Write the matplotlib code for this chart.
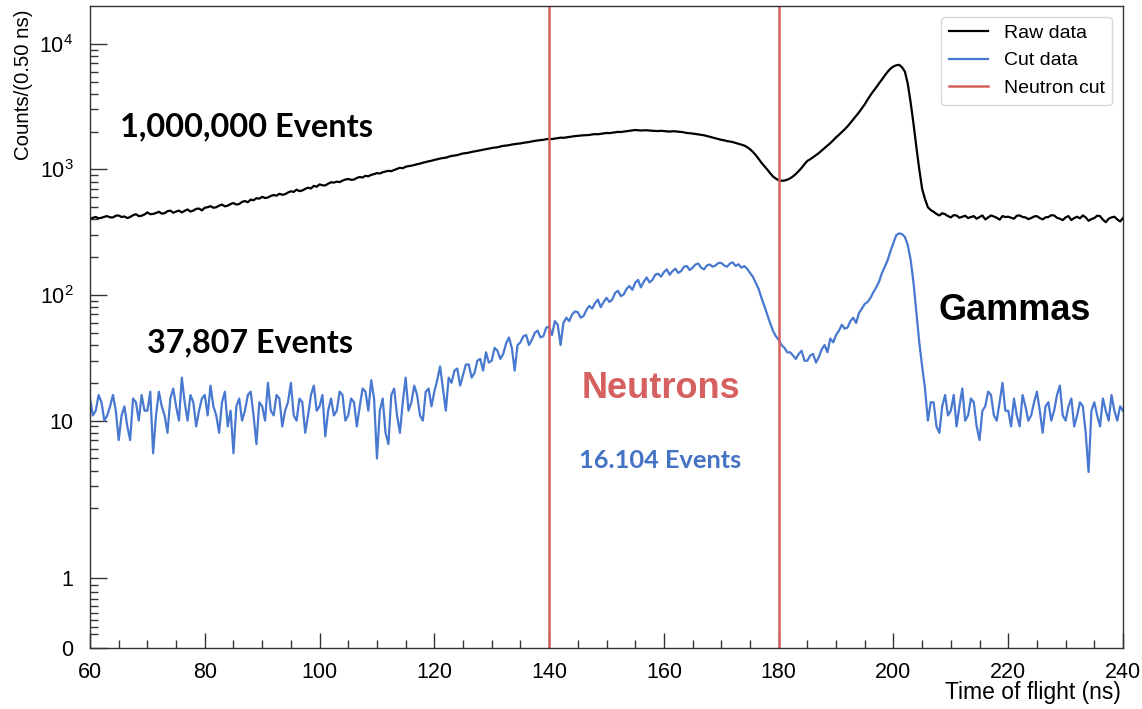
import numpy as np
import matplotlib
matplotlib.use("Agg")
import matplotlib.pyplot as plt

plt.rcParams['font.family'] = ['Liberation Sans', 'DejaVu Sans']
plt.rcParams['mathtext.fontset'] = 'custom'
plt.rcParams['mathtext.rm'] = 'Liberation Sans'

# time of flight bins (ns), 0.5 ns steps
tof = np.arange(60, 240.5, 0.5)

raw_counts = [
    405, 412, 418, 408, 412, 420, 425, 415, 415, 428, 430, 418, 422, 410, 418, 432, 440, 425, 428, 438,
    455, 440, 442, 450, 460, 445, 448, 465, 470, 452, 462, 470, 455, 468, 480, 462, 470, 485, 488, 472,
    495, 500, 510, 495, 500, 515, 525, 508, 515, 530, 540, 525, 530, 552, 560, 548, 575, 568, 590, 585,
    605, 592, 598, 615, 625, 618, 640, 628, 635, 655, 670, 662, 690, 672, 680, 700, 715, 705, 740, 728,
    760, 748, 745, 770, 790, 785, 800, 792, 815, 830, 840, 826, 830, 855, 870, 862, 890, 882, 905, 918,
    935, 928, 950, 962, 975, 968, 990, 1010, 1030, 1022, 1050, 1062, 1070, 1085, 1100, 1112, 1130, 1145, 1160, 1172,
    1190, 1205, 1220, 1232, 1240, 1262, 1280, 1290, 1300, 1322, 1340, 1348, 1360, 1378, 1390, 1405, 1420, 1436, 1450, 1468,
    1480, 1492, 1500, 1522, 1540, 1548, 1560, 1578, 1590, 1602, 1610, 1628, 1640, 1652, 1670, 1688, 1700, 1712, 1720, 1740,
    1750, 1745, 1760, 1778, 1790, 1785, 1800, 1818, 1830, 1842, 1850, 1862, 1870, 1875, 1880, 1898, 1910, 1905, 1920, 1938,
    1950, 1945, 1960, 1978, 1990, 1985, 2000, 2018, 2030, 2045, 2060, 2050, 2040, 2048, 2050, 2038, 2030, 2025, 2020, 2030,
    2020, 2008, 2000, 2012, 2010, 1995, 1990, 1972, 1950, 1942, 1930, 1915, 1900, 1888, 1870, 1845, 1820, 1795, 1770, 1745,
    1720, 1705, 1680, 1668, 1650, 1625, 1600, 1578, 1550, 1505, 1450, 1380, 1300, 1215, 1130, 1062, 1000, 935, 880, 845,
    820, 812, 815, 828, 850, 880, 920, 972, 1030, 1100, 1170, 1205, 1250, 1298, 1350, 1412, 1480, 1548, 1620, 1705,
    1800, 1885, 1980, 2085, 2200, 2345, 2500, 2670, 2850, 3070, 3300, 3600, 3900, 4200, 4500, 4850, 5200, 5600, 6000, 6350,
    6600, 6750, 6800, 6500, 6000, 4800, 3400, 2300, 1500, 1000, 700, 580, 500, 475, 460, 442, 430, 448, 440, 425,
    415, 432, 430, 412, 420, 428, 410, 418, 425, 405, 418, 430, 400, 415, 430, 422, 412, 398, 425, 418,
    420, 412, 405, 428, 430, 418, 415, 402, 410, 422, 425, 410, 400, 415, 418, 432, 430, 412, 405, 395,
    415, 425, 395, 410, 420, 408, 430, 415, 390, 402, 410, 428, 425, 398, 380, 405, 415, 420, 400, 385,
    410,
]

cut_counts = [
    15, 11, 12, 16, 14, 10, 11, 13, 16, 12, 7, 11, 13, 9, 7, 15, 14, 10, 16, 12,
    12, 17, 5.5, 11, 17, 13, 11, 8, 15, 18, 13, 10, 22, 14, 10, 16, 14, 9, 12, 15,
    16, 11, 19, 13, 11, 8, 14, 17, 9, 12, 5.5, 13, 15, 10, 12, 16, 17, 11, 6.5, 14,
    13, 10, 20, 12, 11, 16, 15, 9, 12, 14, 20, 11, 10, 15, 14, 8, 11, 16, 19, 12,
    13, 16, 7.5, 12, 15, 11, 12, 17, 16, 10, 11, 15, 14, 9, 13, 18, 17, 12, 21, 15,
    5, 12, 15, 8, 6.5, 16, 18, 11, 8, 14, 22, 12, 14, 19, 16, 11, 10, 17, 18, 13,
    17, 21, 27, 18, 12, 22, 20, 25, 26, 19, 23, 28, 28, 22, 24, 30, 31, 25, 35, 29,
    30, 38, 36, 31, 34, 41, 46, 38, 25, 40, 42, 47, 48, 40, 44, 50, 52, 46, 47, 55,
    56, 48, 62, 58, 40, 60, 66, 62, 70, 74, 73, 66, 68, 76, 82, 78, 86, 92, 80, 88,
    95, 88, 92, 104, 108, 98, 101, 112, 118, 110, 125, 132, 115, 128, 138, 126, 132, 145, 148, 140,
    152, 160, 145, 155, 162, 150, 155, 168, 170, 158, 165, 175, 178, 165, 160, 172, 175, 168, 172, 180,
    180, 172, 168, 178, 182, 170, 176, 165, 170, 162, 150, 140, 125, 112, 95, 82, 70, 60, 52, 47,
    44, 40, 38, 35, 35, 33, 31, 34, 36, 30, 30, 33, 34, 29, 32, 37, 40, 35, 45, 42,
    48, 52, 58, 54, 55, 62, 66, 60, 72, 78, 85, 88, 95, 105, 115, 128, 150, 168, 190, 225,
    260, 300, 310, 305, 290, 250, 190, 125, 72, 42, 27, 18, 10, 14, 14, 9, 8, 13, 16, 11,
    12, 16, 9, 13, 18, 10, 11, 15, 14, 9, 7, 12, 13, 17, 16, 11, 10, 14, 20, 12,
    12, 9, 15, 11, 9, 16, 13, 10, 11, 14, 17, 12, 8, 13, 14, 10, 12, 16, 19, 11,
    10, 13, 15, 9, 11, 14, 13, 8, 3.9, 12, 14, 11, 9, 15, 12, 10, 16, 12, 10, 13,
    12,
]

cut_edges = [140, 180]

y_major = [0, 1, 10, 100, 1000, 10000]
y_major_labels = ['0', '1', '10', r'$10^{2}$', r'$10^{3}$', r'$10^{4}$']

# y axis: log above 2, linear between 0 and 2
LOG2 = np.log10(2)
K = 70 / 126


def fwd(y):
    y = np.asarray(y, dtype=float)
    return np.where(y > 2, np.log10(np.maximum(y, 2)), LOG2 - (2 - y) * K)


def inv(t):
    t = np.asarray(t, dtype=float)
    return np.where(t > LOG2, 10 ** np.minimum(t, 10), 2 - (LOG2 - t) / K)


fig = plt.figure(figsize=(11.42, 7.09), dpi=100)
ax = fig.add_axes([90 / 1142, 1 - 648 / 709, 1033 / 1142, 642 / 709])

ax.plot(tof, raw_counts, color='black', lw=1.6, label='Raw data')
ax.plot(tof, cut_counts, color='#4878CF', lw=1.6, label='Cut data')
for i, edge in enumerate(cut_edges):
    ax.axvline(edge, color='#D65F5F', lw=1.8, label='Neutron cut' if i == 0 else None)

ax.set_yscale('function', functions=(fwd, inv))
ax.set_xlim(60, 240)
ax.set_ylim(0, 2.0e4)

ax.set_xticks(np.arange(60, 241, 20))
ax.set_xticks(np.arange(60, 241, 5), minor=True)
ax.set_yticks(y_major)
ax.set_yticklabels(y_major_labels)
minor_y = [v / 10 for v in range(2, 10)]
for dec in [1, 10, 100, 1000]:
    minor_y += [m * dec for m in range(2, 10)]
ax.set_yticks(minor_y, minor=True)
ax.yaxis.set_minor_formatter(plt.NullFormatter())

ax.tick_params(axis='both', which='both', direction='in', top=False, right=False,
               labelsize=15.5, width=1, color='#333333')
ax.tick_params(axis='x', which='major', length=11, pad=10)
ax.tick_params(axis='x', which='minor', length=5.5)
ax.tick_params(axis='y', which='major', length=12, pad=12)
ax.tick_params(axis='y', which='minor', length=6)
for sp in ax.spines.values():
    sp.set_color('#333333')
    sp.set_linewidth(1)

ax.legend(loc='upper right', fontsize=14, borderaxespad=0.55)

fig.text(24 / 1142, 1 - 10 / 709, 'Counts/(0.50 ns)', rotation=90,
         ha='center', va='top', fontsize=14.7)
fig.text(1121 / 1142, 1 - 693 / 709, 'Time of flight (ns)',
         ha='right', va='center', fontsize=16.5)

# annotations
fig.text(247 / 1142, 1 - 127 / 709, '1,000,000 Events', family='Lato',
         weight='bold', fontsize=23.4, ha='center', va='center')
fig.text(250 / 1142, 1 - 343 / 709, '37,807 Events', family='Lato',
         weight='bold', fontsize=23.2, ha='center', va='center')
fig.text(661 / 1142, 1 - 388 / 709, 'Neutrons', weight='bold', fontsize=26,
         color='#D65F5F', ha='center', va='center')
fig.text(660 / 1142, 1 - 461 / 709, '16.104 Events', family='Lato',
         weight='bold', fontsize=18.3, color='#4472C4', ha='center', va='center')
fig.text(1015 / 1142, 1 - 311 / 709, 'Gammas', weight='bold', fontsize=26,
         ha='center', va='center')

fig.savefig('out.png', dpi=100)
